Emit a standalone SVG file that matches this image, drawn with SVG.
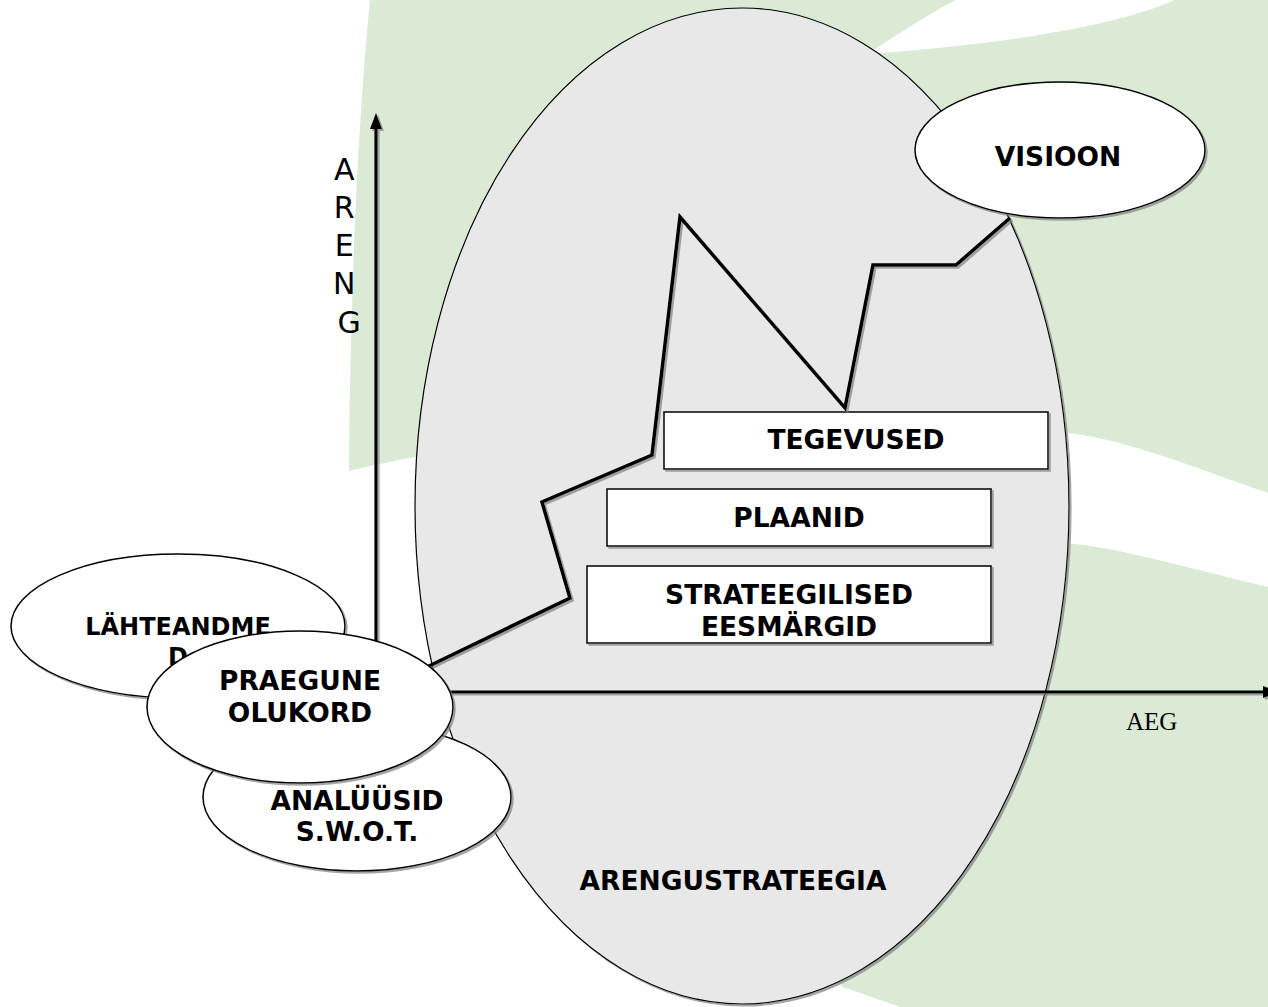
<svg xmlns="http://www.w3.org/2000/svg" width="1268" height="1007" viewBox="0 0 1268 1007">
  <defs>
    <filter id="sh" x="-5%" y="-5%" width="115%" height="115%">
      <feDropShadow dx="2" dy="2" stdDeviation="0.6" flood-color="#7f7f7f" flood-opacity="0.7"/>
    </filter>
    <filter id="shl" filterUnits="userSpaceOnUse" x="0" y="0" width="1300" height="1040">
      <feDropShadow dx="2" dy="2" stdDeviation="0.6" flood-color="#7f7f7f" flood-opacity="0.7"/>
    </filter>
    <style>
      .lbl { font-family: "DejaVu Sans", Verdana, sans-serif; font-weight: bold; font-size: 26.5px; text-anchor: middle; fill: #000; }
      .node { fill: #ffffff; stroke: #000; stroke-width: 1.5; }
      .line { fill: none; stroke: #000; stroke-width: 3.5; stroke-linejoin: miter; }
      .axis { fill: none; stroke: #000; stroke-width: 3.2; }
      .green { fill: #dbead5; }
    </style>
  </defs>

  <rect width="1268" height="1007" fill="#ffffff"/>

  <g id="background">
    <path class="green" d="M370,0 L1268,0 L1268,493 C1200,470 1130,440 1068,433 C880,390 520,430 349,471 C350,300 358,120 370,0 Z"/>
    <path fill="#ffffff" d="M868,54 C900,32 930,14 955,0 L1175,0 C1110,28 1000,44 868,54 Z"/>
    <path class="green" d="M1268,587 C1180,566 1110,545 1060,543 C880,545 760,900 843,987 L900,1007 L1268,1007 Z"/>
  </g>

  <g id="node-arengustrateegia">
    <ellipse cx="742" cy="506" rx="327" ry="498" fill="#e8e8e8" stroke="#000" stroke-width="1.2" filter="url(#sh)"/>
    <text class="lbl" x="733" y="890">ARENGUSTRATEEGIA</text>
  </g>

  <g id="node-tegevused">
    <rect class="node" x="664" y="412" width="384" height="57" filter="url(#sh)"/>
    <text class="lbl" x="856" y="449">TEGEVUSED</text>
  </g>

  <g id="node-plaanid">
    <rect class="node" x="607" y="489" width="384" height="57" filter="url(#sh)"/>
    <text class="lbl" x="799" y="527">PLAANID</text>
  </g>

  <g id="node-strateegilised">
    <rect class="node" x="587" y="566" width="404" height="77" filter="url(#sh)"/>
    <text class="lbl" x="789" y="604">STRATEEGILISED</text>
    <text class="lbl" x="789" y="636">EESMÄRGID</text>
  </g>

  <g id="connectors">
    <polyline class="line" filter="url(#shl)" points="429,666 570,598 542,502 652,455 680,217 845,408 873,265 956,265 1010,218"/>
    <g filter="url(#shl)">
      <line class="axis" x1="376" y1="692" x2="376" y2="126"/>
      <polygon points="376,113 370,129 382,129" fill="#000"/>
      <line class="axis" x1="376" y1="692" x2="1264" y2="692"/>
      <polygon points="1279,692 1263,686 1263,698" fill="#000"/>
    </g>
  </g>

  <g id="label-aeg">
    <text x="1126" y="730" font-family="'Liberation Serif', 'Times New Roman', serif" font-size="25" fill="#000">AEG</text>
  </g>

  <g id="label-areng">
    <text font-family="'DejaVu Sans', Verdana, sans-serif" font-size="30" text-anchor="middle" fill="#000">
      <tspan x="349" y="180">A</tspan>
      <tspan x="349" y="218">R</tspan>
      <tspan x="349" y="256">E</tspan>
      <tspan x="349" y="294">N</tspan>
      <tspan x="349" y="333">G</tspan>
    </text>
  </g>

  <g id="node-lahteandmed">
    <ellipse class="node" cx="178" cy="626" rx="167" ry="72" filter="url(#sh)"/>
    <text class="lbl" x="178" y="635" style="font-size:24px">LÄHTEANDME</text>
    <text class="lbl" x="178" y="665" style="font-size:24px">D</text>
  </g>

  <g id="node-analuusid">
    <ellipse class="node" cx="357" cy="797" rx="154" ry="74" filter="url(#sh)"/>
    <text class="lbl" x="357" y="810">ANALÜÜSID</text>
    <text class="lbl" x="357" y="841">S.W.O.T.</text>
  </g>

  <g id="node-praegune">
    <ellipse class="node" cx="300" cy="707" rx="153" ry="76" filter="url(#sh)"/>
    <text class="lbl" x="300" y="690">PRAEGUNE</text>
    <text class="lbl" x="300" y="722">OLUKORD</text>
  </g>

  <g id="node-visioon">
    <ellipse class="node" cx="1060" cy="150" rx="145" ry="68" filter="url(#sh)"/>
    <text class="lbl" x="1058" y="166">VISIOON</text>
  </g>
</svg>
